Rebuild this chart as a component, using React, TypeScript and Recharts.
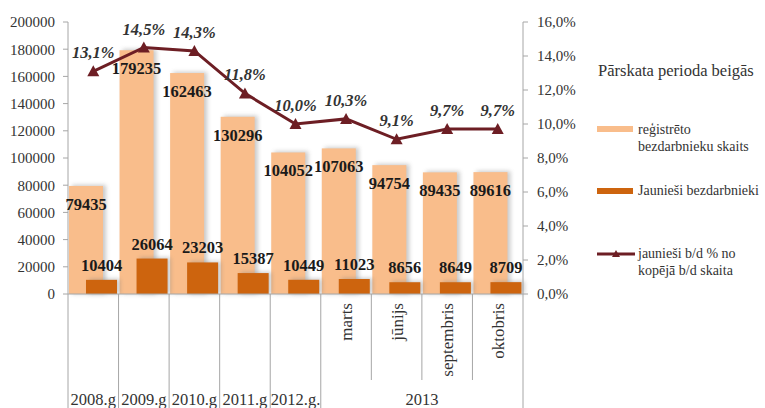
import React from 'react';
import { ComposedChart, Bar, Line, XAxis, YAxis, LabelList } from 'recharts';

const categories = ['2008.g', '2009.g', '2010.g', '2011.g', '2012.g.', 'marts', 'jūnijs', 'septembris', 'oktobris'];
const registered = [79435, 179235, 162463, 130296, 104052, 107063, 94754, 89435, 89616];
const youth = [10404, 26064, 23203, 15387, 10449, 11023, 8656, 8649, 8709];
const youthShare = [0.131, 0.145, 0.143, 0.118, 0.1, 0.103, 0.091, 0.097, 0.097];
const leftTicks = [0, 20000, 40000, 60000, 80000, 100000, 120000, 140000, 160000, 180000, 200000];
const rightTicks = [0, 0.02, 0.04, 0.06, 0.08, 0.1, 0.12, 0.14, 0.16];
const groups = [{ label: '2013', from: 5, to: 8 }];
const legendTitle = 'Pārskata perioda beigās';
const seriesLabels = [
  ['reģistrēto', 'bezdarbnieku skaits'],
  ['Jaunieši bezdarbnieki'],
  ['jaunieši b/d % no', 'kopējā b/d skaita'],
];

const data = categories.map((cat, i) => ({
  cat,
  registered: registered[i],
  youth: youth[i],
  share: youthShare[i],
}));

const LIGHT = '#f9bd8b';
const DARK = '#cd640e';
const LINE = '#6d1e24';
const AXIS = '#a6a6a6';
const TEXT = '#333333';
const AXIS_H = 114;
const FONT = 'Liberation Serif, DejaVu Serif, serif';

const pct = (v: number) => (v * 100).toFixed(1).replace('.', ',') + '%';

const ShadowBar = (props: any) => {
  const { x, y, width, height, fill } = props;
  if (!height) return null;
  return (
    <g>
      <rect x={x + 3} y={y - 1} width={width} height={height + 1} fill="#7a7a7a" opacity={0.4} style={{ filter: 'blur(2px)' }} />
      <rect x={x} y={y} width={width} height={height} fill={fill} />
    </g>
  );
};

const Triangle = (props: any) => {
  const { cx, cy, index } = props;
  if (cx == null || cy == null) return null;
  return <path key={'tri' + index} d={`M${cx},${cy - 6}L${cx + 6},${cy + 5}L${cx - 6},${cy + 5}Z`} fill={LINE} />;
};

const CategoryTick = (props: any) => {
  const { x, y, payload, index } = props;
  const half = payload.offset ?? props.width / (props.visibleTicksCount || categories.length) / 2;
  const left = x - half;
  const group = groups.find((g) => index >= g.from && index <= g.to);
  const fullLeft = !group || group.from === index;
  const isLast = index === categories.length - 1;
  return (
    <g>
      <line x1={left} x2={left} y1={y} y2={y + (fullLeft ? AXIS_H : 86)} stroke={AXIS} />
      {isLast && <line x1={x + half} x2={x + half} y1={y} y2={y + AXIS_H} stroke={AXIS} />}
      {group ? (
        <text
          x={x}
          y={y + 9}
          dy="0.35em"
          transform={`rotate(-90, ${x}, ${y + 9})`}
          textAnchor="end"
          fontSize={17}
          fontFamily={FONT}
          fill={TEXT}
        >
          {payload.value}
        </text>
      ) : (
        <text x={x} y={y + 111} textAnchor="middle" fontSize={16.5} fontFamily={FONT} fill={TEXT}>
          {payload.value}
        </text>
      )}
      {group && group.from === index && (
        <text x={left + (group.to - group.from + 1) * half} y={y + 111} textAnchor="middle" fontSize={16.5} fontFamily={FONT} fill={TEXT}>
          {group.label}
        </text>
      )}
    </g>
  );
};

const swatchBase: React.CSSProperties = { position: 'absolute', left: 597, width: 36 };
const textBase: React.CSSProperties = { position: 'absolute', left: 638, fontSize: 14, lineHeight: '17px', color: TEXT, whiteSpace: 'nowrap' };

const ChartLegend = () => (
  <>
    <div style={{ position: 'absolute', left: 598, top: 61, fontSize: 16.5, color: TEXT, whiteSpace: 'nowrap' }}>{legendTitle}</div>
    <div style={{ ...swatchBase, top: 126, height: 6, background: LIGHT }} />
    <div style={{ ...textBase, top: 121 }}>
      {seriesLabels[0].map((l) => (
        <div key={l}>{l}</div>
      ))}
    </div>
    <div style={{ ...swatchBase, top: 188, height: 6, background: DARK }} />
    <div style={{ ...textBase, top: 182 }}>
      {seriesLabels[1].map((l) => (
        <div key={l}>{l}</div>
      ))}
    </div>
    <svg style={{ position: 'absolute', left: 597, top: 246 }} width={38} height={16}>
      <line x1={0} x2={38} y1={8} y2={8} stroke={LINE} strokeWidth={3} />
      <path d="M19,4L23,11L15,11Z" fill={LINE} />
    </svg>
    <div style={{ ...textBase, top: 245 }}>
      {seriesLabels[2].map((l) => (
        <div key={l}>{l}</div>
      ))}
    </div>
  </>
);

const tickStyle = { fill: TEXT, fontSize: 15, fontFamily: FONT };

export default function App() {
  return (
    <div style={{ position: 'absolute', left: 0, top: 0, width: 765, height: 408, background: '#fff', fontFamily: FONT, overflow: 'hidden' }}>
      <ComposedChart width={765} height={408} data={data} margin={{ top: 22, right: 187, left: 0, bottom: 0 }} barGap={-17} style={{ fontFamily: FONT }}>
        <XAxis
          dataKey="cat"
          height={AXIS_H}
          interval={0}
          tickSize={0}
          tickMargin={0}
          tickLine={false}
          axisLine={{ stroke: AXIS }}
          tick={<CategoryTick />}
        />
        <YAxis
          yAxisId="left"
          width={68}
          domain={[0, 200000]}
          ticks={leftTicks}
          interval={0}
          axisLine={{ stroke: AXIS }}
          tickLine={{ stroke: AXIS }}
          tickSize={5}
          tickMargin={8}
          tick={tickStyle}
        />
        <YAxis
          yAxisId="right"
          orientation="right"
          width={55}
          domain={[0, 0.16]}
          ticks={rightTicks}
          interval={0}
          tickFormatter={pct}
          axisLine={{ stroke: AXIS }}
          tickLine={{ stroke: AXIS }}
          tickSize={5}
          tickMargin={9}
          tick={tickStyle}
        />
        <Bar yAxisId="left" dataKey="registered" fill={LIGHT} barSize={34} shape={<ShadowBar />} isAnimationActive={false}>
          <LabelList dataKey="registered" position="insideTop" offset={12} fill="#1a1a1a" fontSize={16.5} fontWeight="bold" fontFamily={FONT} />
        </Bar>
        <Bar yAxisId="left" dataKey="youth" fill={DARK} barSize={31} shape={<ShadowBar />} isAnimationActive={false}>
          <LabelList dataKey="youth" position="top" offset={9} fill="#1a1a1a" fontSize={16.5} fontWeight="bold" fontFamily={FONT} />
        </Bar>
        <Line
          yAxisId="right"
          dataKey="share"
          stroke={LINE}
          strokeWidth={3}
          dot={<Triangle />}
          activeDot={false}
          isAnimationActive={false}
        >
          <LabelList
            dataKey="share"
            position="top"
            offset={13}
            formatter={(v: any) => pct(Number(v))}
            fill={TEXT}
            fontSize={16.5}
            fontWeight="bold"
            fontStyle="italic"
            fontFamily={FONT}
          />
        </Line>
      </ComposedChart>
      <ChartLegend />
    </div>
  );
}
